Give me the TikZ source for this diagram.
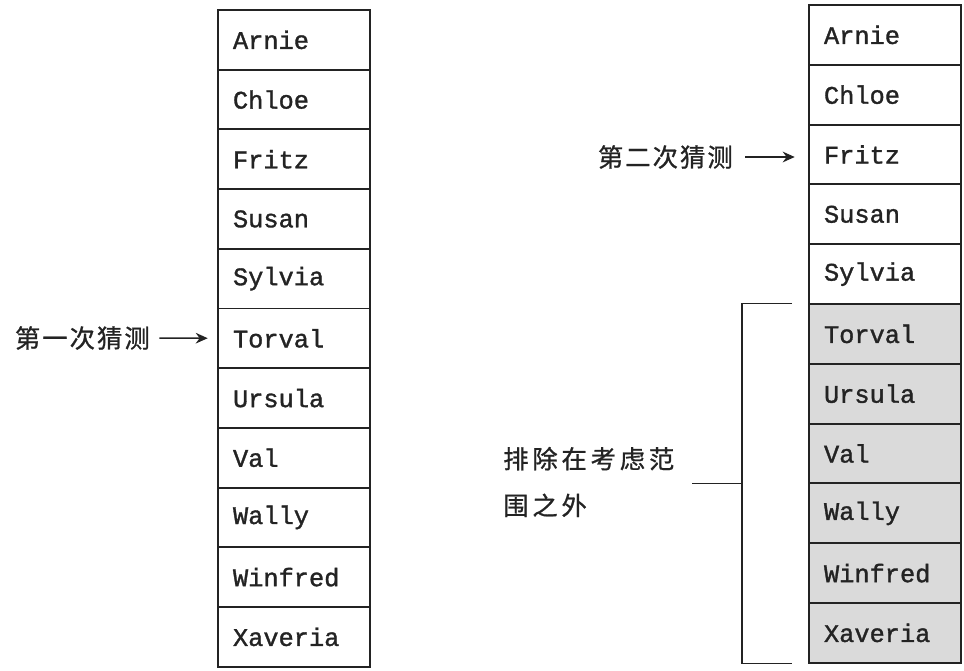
\documentclass[tikz,border=0pt]{standalone}
\usepackage{fontspec}
\setmonofont[FakeBold=1.3]{Liberation Mono}
\newfontfamily\cjk[LetterSpace=8, FakeBold=0.9]{Noto Sans CJK SC}
\newfontfamily\cjkwide[LetterSpace=15, FakeBold=0.9]{Noto Sans CJK SC}
\usetikzlibrary{arrows.meta, calc}

\begin{document}
\begin{tikzpicture}[x=0.75pt, y=-0.75pt, >={Stealth[length=9pt, width=8pt]}]
    % Colours
    \definecolor{shadecolor}{RGB}{218, 218, 218}
    \definecolor{inkcolor}{RGB}{35, 35, 35}
    \tikzset{
        namebox/.style={draw=inkcolor, line width=1.4pt, minimum height=44.8pt, text width=91.5pt,
            inner xsep=11.25pt, inner ysep=0pt, align=left, text=inkcolor,
            font=\ttfamily\fontsize{19}{22}\selectfont},
        guess/.style={font=\cjk\fontsize{19}{35}\selectfont, inner sep=0pt, text=inkcolor},
        pointer/.style={->, line width=1.2pt, inkcolor},
        bracket/.style={line width=0.9pt, inkcolor},
    }
    \useasboundingbox (0,0) rectangle (964,671);

    % Left column: whole list
    \foreach \name [count=\i] in {Arnie,Chloe,Fritz,Susan,Sylvia,Torval,Ursula,Val,Wally,Winfred,Xaveria} {
        \node[namebox] (L\i) at (294, {10+59.7*(\i-0.5)}) {\name};
    }

    % Right column: upper half still in play
    \foreach \name [count=\i] in {Arnie,Chloe,Fritz,Susan,Sylvia} {
        \node[namebox] (R\i) at (885, {5+59.8*(\i-0.5)}) {\name};
    }
    % Right column: lower half ruled out
    \foreach \name [count=\i from 6] in {Torval,Ursula,Val,Wally,Winfred,Xaveria} {
        \node[namebox, fill=shadecolor] (R\i) at (885, {5+59.8*(\i-0.5)}) {\name};
    }

    % Guesses
    \node[guess, anchor=east] (guessone) at (150, 338) {第一次猜测};
    \draw[pointer, shorten <=7pt, shorten >=7pt] (guessone) -- (L6);

    \node[guess, anchor=east] (guesstwo) at (733, 157) {第二次猜测};
    \draw[pointer, shorten <=9pt, shorten >=10pt] (guesstwo) -- (guesstwo -| R3.west);

    % Bracket over the excluded names
    \coordinate (btop) at ([xshift=-12pt]R6.north west);
    \coordinate (bbot) at ([xshift=-12pt]R11.south west);
    \coordinate (bmid) at ($(btop)!0.5!(bbot) + (-37.5pt,0)$);
    \draw[bracket] (btop) -- ++(-37.5pt,0) |- (bbot);
    \draw[bracket] (bmid) -- ++(-37.5pt,0);

    \node[guess, font=\cjkwide\fontsize{19}{35}\selectfont, anchor=west, align=left]
        (outlabel) at (503, 482) {排除在考虑范\\围之外};
\end{tikzpicture}
\end{document}
